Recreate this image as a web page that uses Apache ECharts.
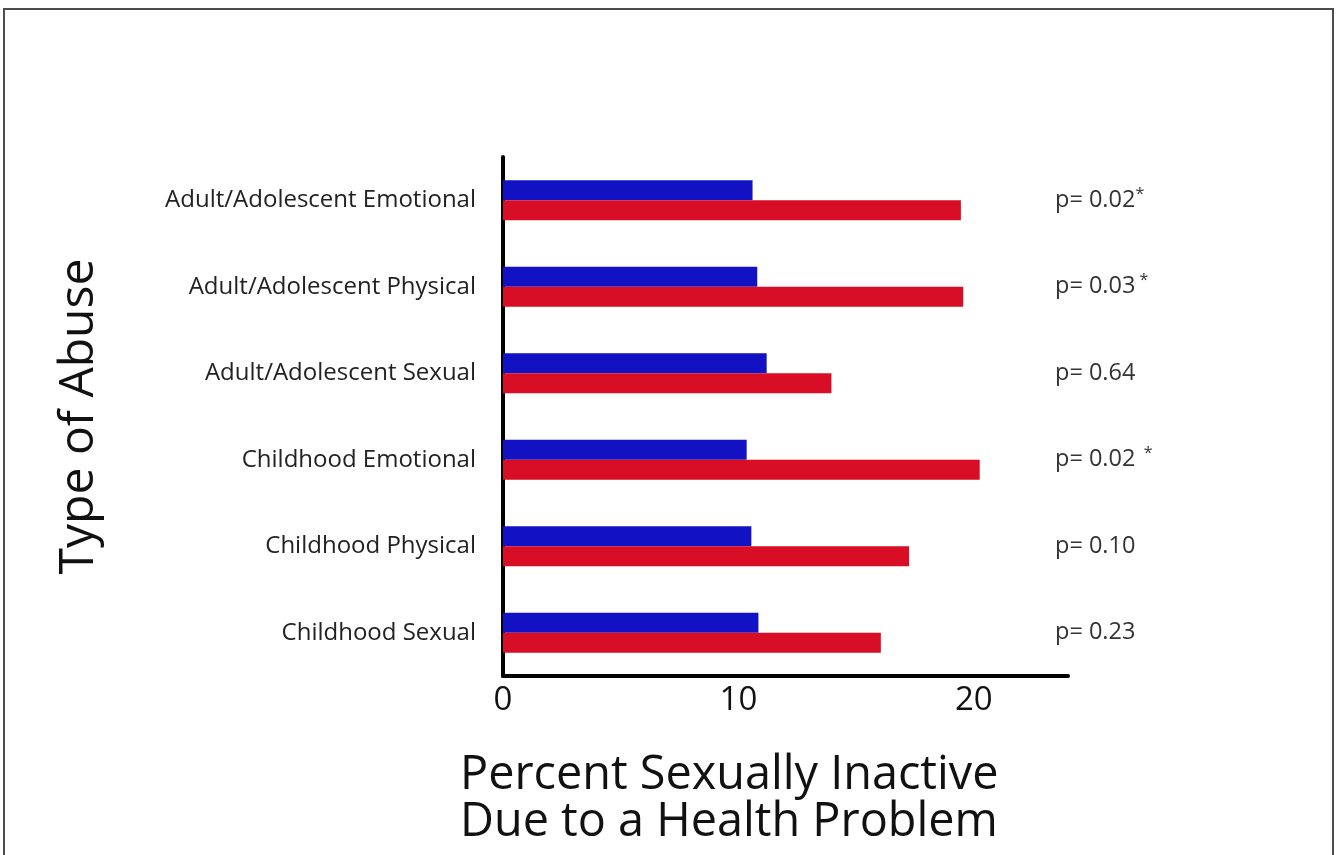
<!DOCTYPE html>
<html>
<head>
<meta charset="utf-8">
<script src="https://cdn.jsdelivr.net/npm/echarts@6/dist/echarts.min.js"></script>
<style>
  html, body { margin: 0; padding: 0; background: #fff; }
  #frame { position: absolute; left: 3px; top: 8px; width: 1331px; height: 900px; border: 2px solid #4d4d4d; box-sizing: border-box; }
  #chart { position: absolute; left: 0; top: 0; width: 1339px; height: 855px; }
</style>
</head>
<body>
<div id="frame"></div>
<div id="chart"></div>
<script>
const categories = [
  'Adult/Adolescent Emotional',
  'Adult/Adolescent Physical',
  'Adult/Adolescent Sexual',
  'Childhood Emotional',
  'Childhood Physical',
  'Childhood Sexual'
];
const blueValues = [10.6, 10.8, 11.2, 10.35, 10.55, 10.85];
const redValues  = [19.45, 19.55, 13.95, 20.25, 17.25, 16.05];
const pValues = ['p= 0.02', 'p= 0.03', 'p= 0.64', 'p= 0.02', 'p= 0.10', 'p= 0.23'];
const pStars  = ['*', ' *', '', '  *', '', ''];
const xTicks = [0, 10, 20];

const pLabels = pValues.map((p, i) => pStars[i] ? '{v|' + p + '}{s|' + pStars[i] + '}' : '{v|' + p + '}');

const chart = echarts.init(document.getElementById('chart'));
chart.setOption({
  animation: false,
  backgroundColor: 'transparent',
  title: {
    text: 'Percent Sexually Inactive\nDue to a Health Problem',
    left: 460,
    top: 752,
    padding: 0,
    textStyle: { fontFamily: 'Open Sans', fontSize: 46.8, fontWeight: 'normal', color: '#111', lineHeight: 47 }
  },
  grid: { left: 503, right: 271, top: 157, bottom: 179, containLabel: false },
  xAxis: {
    type: 'value',
    min: 0,
    max: 24,
    interval: 10,
    splitLine: { show: false },
    axisTick: { show: false },
    axisLine: { show: true, lineStyle: { color: '#000', width: 4 } },
    axisLabel: {
      fontFamily: 'Open Sans', fontSize: 33, color: '#111', margin: 8,
      formatter: v => xTicks.indexOf(v) >= 0 ? String(v) : ''
    }
  },
  yAxis: [{
    type: 'category',
    data: categories,
    inverse: true,
    name: 'Type of Abuse',
    nameLocation: 'middle',
    nameRotate: 90,
    nameGap: 400,
    nameTextStyle: { fontFamily: 'Open Sans', fontSize: 48, color: '#111' },
    axisTick: { show: false },
    axisLine: { show: true, lineStyle: { color: '#000', width: 4 } },
    axisLabel: { fontFamily: 'Open Sans', fontSize: 24, color: '#222', margin: 27 }
  }, {
    type: 'category',
    data: pLabels,
    inverse: true,
    position: 'right',
    axisTick: { show: false },
    axisLine: { show: false },
    axisLabel: {
      align: 'left',
      margin: -13,
      rich: {
        v: { fontFamily: 'Open Sans', fontSize: 23.5, color: '#333' },
        s: { fontFamily: 'Open Sans', fontSize: 16, color: '#333', verticalAlign: 'top', padding: [0, 0, 12, 0] }
      }
    }
  }],
  series: [{
    type: 'bar',
    data: blueValues,
    barWidth: 20,
    barGap: '0%',
    itemStyle: { color: '#1212c4' }
  }, {
    type: 'bar',
    data: redValues,
    barWidth: 20,
    barGap: '0%',
    itemStyle: { color: '#d80d26' }
  }]
});
</script>
</body>
</html>
